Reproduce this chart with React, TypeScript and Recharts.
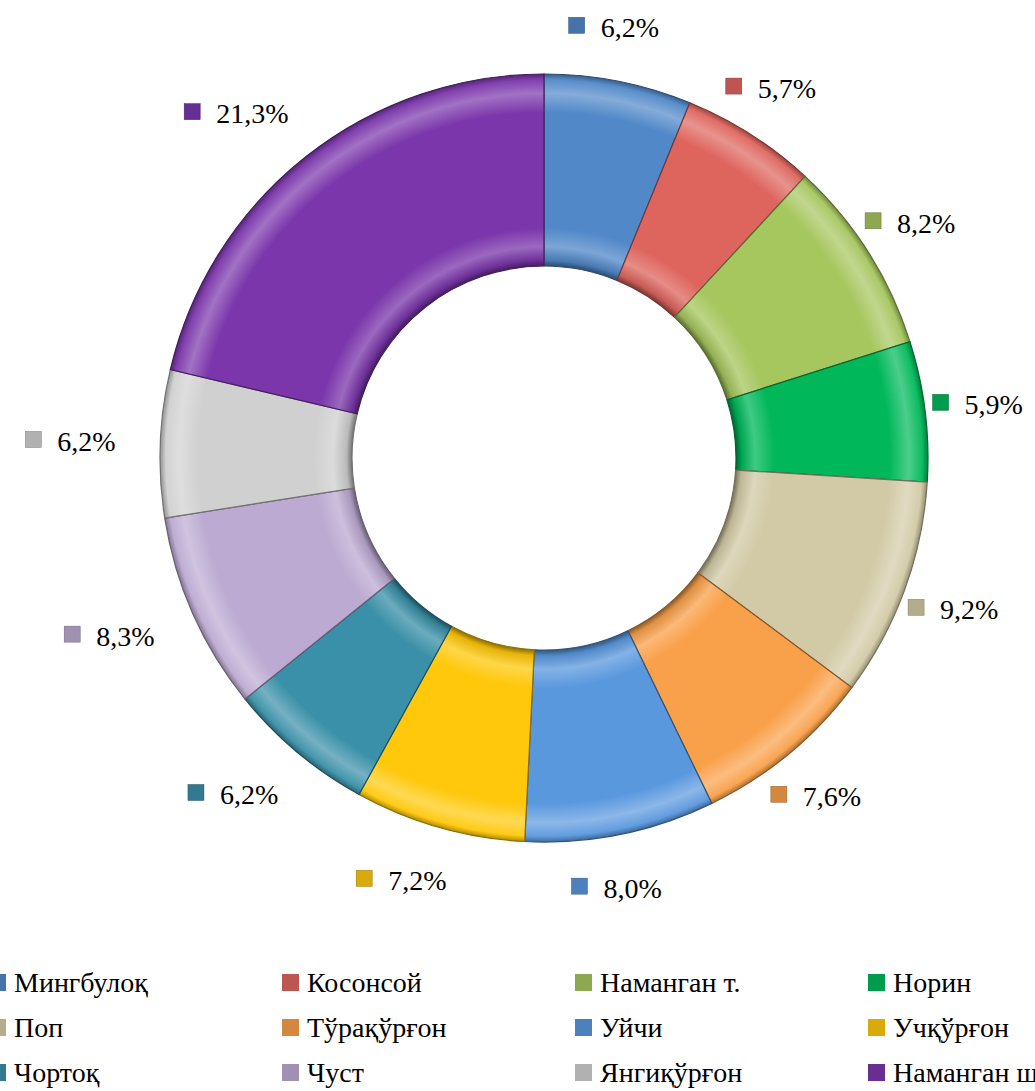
import { Cell, Legend, Pie, PieChart } from "recharts";

const districts = [
  "Мингбулоқ",
  "Косонсой",
  "Наманган т.",
  "Норин",
  "Поп",
  "Тўрақўрғон",
  "Уйчи",
  "Учқўрғон",
  "Чортоқ",
  "Чуст",
  "Янгиқўрғон",
  "Наманган ш.",
];

const shares = [6.2, 5.7, 8.2, 5.9, 9.2, 7.6, 8.0, 7.2, 6.2, 8.3, 6.2, 21.3];

const colors = [
  "#5088c8",
  "#de655e",
  "#a6c65e",
  "#00b85a",
  "#d2caa6",
  "#f9a04a",
  "#5a98de",
  "#ffc80a",
  "#3a90a8",
  "#bcaad2",
  "#d0d0d0",
  "#7a36aa",
];

const W = 1035;
const H = 1091;
const CX = 544;
const CY = 458;
const R_OUT = 384;
const R_IN = 192;
const FONT = "Liberation Serif, Times New Roman, Times, Tinos, Noto Serif, DejaVu Serif, FreeSerif, serif";
const RADIAN = Math.PI / 180;

const shade = (hex: string, k: number) => {
  const n = parseInt(hex.slice(1), 16);
  const f = (c: number) =>
    Math.max(0, Math.min(255, Math.round(k >= 0 ? c + (255 - c) * k : c * (1 + k))));
  const r = f((n >> 16) & 255);
  const g = f((n >> 8) & 255);
  const b = f(n & 255);
  return `rgb(${r},${g},${b})`;
};

const data = districts.map((name, i) => ({ name, value: shares[i] }));

const fmt = (v: number) => v.toFixed(1).replace(".", ",") + "%";

// text box edge sits on a circle just outside the ring, marker hangs to its left
const renderLabel = (props: any) => {
  const { cx, cy, midAngle, index, value } = props;
  const r = 424;
  const dx = Math.cos(-midAngle * RADIAN);
  const dy = Math.sin(-midAngle * RADIAN);
  const textW = value >= 10 ? 80 : 63;
  const tx = cx + r * dx + (dx * textW) / 2;
  const ty = cy + r * dy + dy * 15;
  const left = tx - textW / 2;
  return (
    <g key={`lbl-${index}`}>
      <rect x={left - 32} y={ty - 10} width={16} height={16} fill={shade(colors[index], -0.15)} stroke={shade(colors[index], -0.4)} strokeWidth={0.5} />
      <text x={left} y={ty} dy="0.35em" style={{ fontFamily: FONT }} fontSize={28} fill="#000" textAnchor="start">
        {fmt(value)}
      </text>
    </g>
  );
};

const renderLegend = () => (
  <div style={{ position: "relative", width: W, height: 135, fontFamily: FONT, fontSize: 28, color: "#000" }}>
    {districts.map((name, i) => {
      const col = i % 4;
      const row = Math.floor(i / 4);
      const left = col * 293;
      const top = row * 45;
      return (
        <div key={name} style={{ position: "absolute", left: left - 11, top, height: 45, display: "flex", alignItems: "center", whiteSpace: "nowrap" }}>
          <span style={{ display: "inline-block", width: 17, height: 17, background: shade(colors[i], -0.15), marginRight: 8 }} />
          <span>{name}</span>
        </div>
      );
    })}
  </div>
);

export default function App() {
  return (
    <div style={{ position: "absolute", left: 0, top: 0, width: W, height: H, overflow: "hidden", background: "#fff" }}>
      <PieChart width={W} height={H} margin={{ top: 0, right: 0, bottom: 0, left: 0 }}>
        <defs>
          {colors.map((c, i) => (
            <radialGradient key={i} id={`bev${i}`} gradientUnits="userSpaceOnUse" cx={CX} cy={CY} r={R_OUT}>
              <stop offset="0.5" stopColor={shade(c, -0.45)} />
              <stop offset="0.515" stopColor={shade(c, -0.1)} />
              <stop offset="0.55" stopColor={shade(c, 0.25)} />
              <stop offset="0.6" stopColor={c} />
              <stop offset="0.9" stopColor={c} />
              <stop offset="0.95" stopColor={shade(c, 0.3)} />
              <stop offset="0.985" stopColor={shade(c, 0.05)} />
              <stop offset="1" stopColor={shade(c, -0.3)} />
            </radialGradient>
          ))}
        </defs>
        <Pie
          data={data}
          dataKey="value"
          nameKey="name"
          cx={CX}
          cy={CY}
          innerRadius={R_IN}
          outerRadius={R_OUT}
          startAngle={90}
          endAngle={-270}
          paddingAngle={0}
          label={renderLabel}
          labelLine={false}
          isAnimationActive={false}
        >
          {data.map((d, i) => (
            <Cell key={d.name} fill={`url(#bev${i})`} stroke={shade(colors[i], -0.45)} strokeWidth={1.2} />
          ))}
        </Pie>
        <Legend content={renderLegend} wrapperStyle={{ position: "absolute", left: 0, top: 960, width: W }} />
      </PieChart>
    </div>
  );
}
